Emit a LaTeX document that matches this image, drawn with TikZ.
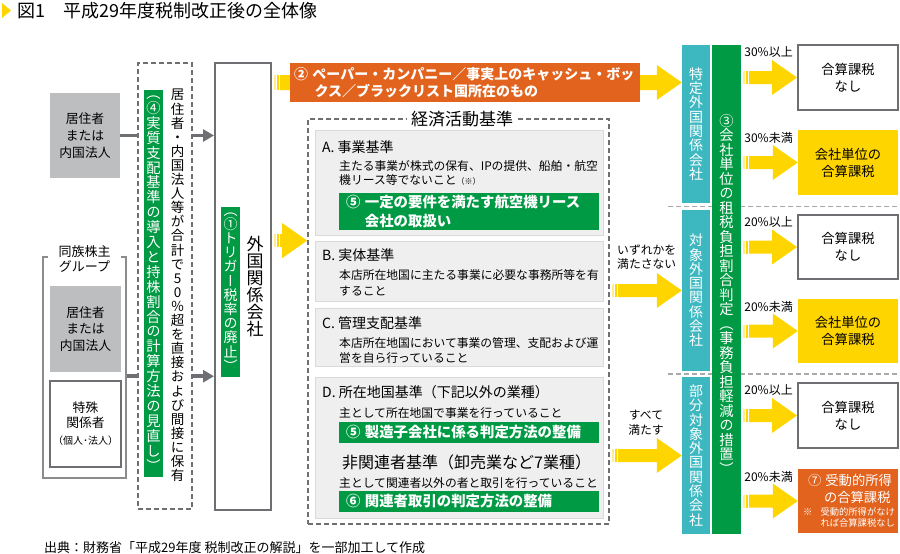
\documentclass[tikz,border=0pt]{standalone}
\usepackage{fontspec}
\setmainfont{Noto Sans CJK JP}
\newfontfamily\vjp[RawFeature=+vert]{Noto Sans CJK JP}
\usetikzlibrary{calc,arrows.meta,backgrounds}

\definecolor{jyellow}{HTML}{FFD500}
\definecolor{jorange}{HTML}{E2631E}
\definecolor{jgreen}{HTML}{009A44}
\definecolor{jteal}{HTML}{3DB8C1}
\definecolor{boxgray}{HTML}{BDBEC0}
\definecolor{linegray}{HTML}{6D6F72}
\definecolor{panelgray}{HTML}{EFEFEF}
\definecolor{panelline}{HTML}{DADADA}

\newcommand\fs[2]{\fontsize{#1}{#2}\selectfont}
\makeatletter
\newcommand\vtext[2]{\vbox{\baselineskip=#1\lineskiplimit=-\maxdimen\lineskip=0pt
  \@tfor\vt@c:=#2\do{\hbox to 1em{\hss\vt@c\hss}}}}
\makeatother
\newcommand\yarrow[3][6.5]{%
  \fill[jyellow!45] ($(#2)+(2,#1)$) rectangle ($(#2)+(4,-#1)$);
  \fill[jyellow] ($(#2)+(5,#1)$) rectangle ($(#2)+(7,-#1)$);
  \fill[jyellow] ($(#2)+(8,#1)$) -- ($(#3)+(-25,#1)$) -- ($(#3)+(-25,17.5)$) -- (#3)
    -- ($(#3)+(-25,-17.5)$) -- ($(#3)+(-25,-#1)$) -- ($(#2)+(8,-#1)$) -- cycle;}

\begin{document}
\begin{tikzpicture}[x=1pt, y=-1pt, font=\fs{12}{15},
  graybox/.style={fill=boxgray, align=center, inner sep=0pt, font=\fs{12.8}{16.7}},
  whitebox/.style={draw=linegray, line width=2pt, fill=white, align=center, inner sep=0pt},
  dashbox/.style={draw=linegray, line width=1.6pt, dash pattern=on 5pt off 3pt, inner sep=0pt},
  panel/.style={fill=panelgray, draw=panelline, line width=0.8pt, inner sep=0pt},
  greenbox/.style={fill=jgreen, inner sep=0pt},
  tealbar/.style={fill=jteal, inner sep=0pt},
  wtext/.style={text=white, inner sep=0pt},
  lbl/.style={anchor=west, inner sep=0pt, align=left},
  conn/.style={draw=linegray, line width=3.5pt},
  sepline/.style={draw=linegray!60, line width=1.5pt, dash pattern=on 5pt off 3pt}]

  \useasboundingbox (0,0) rectangle (900,554);

  \fill[jyellow] (2,3) -- (11,10.5) -- (2,18) -- cycle;
  \node[lbl, font=\fs{18}{18}] (title) at (17,11) {図1\hspace{1em}平成29年度税制改正後の全体像};

  \node[graybox, minimum width=70, minimum height=85] (res1) at (85,135.5) {居住者\\または\\内国法人};
  \node[draw=linegray!80, line width=1.5pt, inner sep=0pt, minimum width=83, minimum height=221] (dozoku) at (84.5,367.5) {};
  \node[fill=white, inner sep=0pt, minimum width=73, minimum height=35, align=center, font=\fs{13}{15.5}] (dozokulbl) at (84.5,259) {同族株主\\グループ};
  \node[graybox, minimum width=71, minimum height=86] (res2) at (85.5,329) {居住者\\または\\内国法人};
  \node[whitebox, line width=1.5pt, minimum width=71, minimum height=86, font=\fs{12.8}{15}] (tokushu) at (85.5,424) {特殊\\関係者\\[2pt]{\fs{10}{12}（個人･法人）}};

  \node[dashbox, minimum width=54, minimum height=446] (shihai) at (165,286) {};
  \node[greenbox, minimum width=19, minimum height=387] (shihaibar) at (153.5,283.5) {};
  \node[wtext, font=\vjp\fs{14.3}{14.3}] (shihaibartxt) at (shihaibar) {\vtext{14.9pt}{（④実質支配基準の導入と持株割合の計算方法の見直し）}};
  \node[font=\vjp\fs{13.5}{13.5}] (shihaitxt) at (177.5,285.5) {\vtext{14.1pt}{居住者・内国法人等が合計で50％超を直接および間接に保有}};

  \node[whitebox, minimum width=56, minimum height=447] (gaikoku) at (243,286.5) {};
  \node[greenbox, minimum width=19, minimum height=170] (trigger) at (230.5,292) {};
  \node[wtext, font=\vjp\fs{14}{14}] (triggertxt) at (trigger) {\vtext{14.2pt}{（①トリガー税率の廃止）}};
  \node[font=\vjp\fs{17}{17}] (gaikokutxt) at (255,287) {\vtext{17pt}{外国関係会社}};

  \coordinate (lowrow) at ($(res2.south)!.5!(tokushu.north)$);
  \draw[conn] (res1.east) -- (shihai.west |- res1.east);
  \draw[conn] (dozoku.east |- lowrow) -- (shihai.west |- lowrow);
  \draw[conn, -{Triangle[length=11pt,width=12pt]}] (shihai.east |- res1.east) -- (gaikoku.west |- res1.east);
  \draw[conn, -{Triangle[length=11pt,width=12pt]}] (shihai.east |- lowrow) -- (gaikoku.west |- lowrow);

  \node[fill=jorange, inner sep=0pt, minimum width=350, minimum height=39] (paper) at (465,82.5) {};
  \node[lbl, wtext, font=\bfseries\fs{14}{17}] (papertxt) at (294,82.5) {②\hspace{0.3em}ペーパー・カンパニー／事実上のキャッシュ・ボッ\\\hspace*{1.45em}クス／ブラックリスト国所在のもの};

  \node[dashbox, minimum width=301, minimum height=405] (keizai) at (458.5,321.5) {};
  \node[panel, minimum width=288, minimum height=105] (critA) at (459,182.5) {};
  \node[panel, minimum width=288, minimum height=60] (critB) at (459,271) {};
  \node[panel, minimum width=288, minimum height=58] (critC) at (459,337) {};
  \node[panel, minimum width=288, minimum height=141] (critD) at (459,447.5) {};
  \node[fill=white, inner sep=0pt, minimum width=110, minimum height=22, font=\fs{17}{17}] (keizailbl) at (462,119) {経済活動基準};

  \node[lbl, font=\fs{14}{14}] (critAhead) at (322,147) {A. 事業基準};
  \node[lbl, font=\fs{11.8}{14.5}] (critAbody) at (339,173) {主たる事業が株式の保有、IPの提供、船舶・航空\\機リース等でないこと{\fs{8}{8}（※）}};
  \node[greenbox, minimum width=260, minimum height=37] (green5a) at (469,211.5) {};
  \node[lbl, wtext, font=\bfseries\fs{14.4}{18.5}] (green5atxt) at (346,211.5) {⑤\hspace{0.3em}一定の要件を満たす航空機リース\\\hspace*{1.3em}会社の取扱い};

  \node[lbl, font=\fs{14}{14}] (critBhead) at (322,255) {B. 実体基準};
  \node[lbl, font=\fs{11.8}{16}] (critBbody) at (339,283) {本店所在地国に主たる事業に必要な事務所等を有\\すること};

  \node[lbl, font=\fs{14}{14}] (critChead) at (322,323) {C. 管理支配基準};
  \node[lbl, font=\fs{11.8}{15}] (critCbody) at (339,350.5) {本店所在地国において事業の管理、支配および運\\営を自ら行っていること};

  \node[lbl, font=\fs{14}{14}] (critDhead) at (322,392) {D. 所在地国基準（下記以外の業種）};
  \node[lbl, font=\fs{11.8}{14}] (critDbody) at (339,413) {主として所在地国で事業を行っていること};
  \node[greenbox, minimum width=260, minimum height=21] (green5b) at (469,432.5) {};
  \node[lbl, wtext, font=\bfseries\fs{14.4}{14.4}] (green5btxt) at (346,432.5) {⑤\hspace{0.3em}製造子会社に係る判定方法の整備};
  \node[lbl, font=\fs{16}{16}] (hikanren) at (342,462) {非関連者基準（卸売業など7業種）};
  \node[lbl, font=\fs{11.8}{14}] (hikanrenbody) at (339,483) {主として関連者以外の者と取引を行っていること};
  \node[greenbox, minimum width=260, minimum height=21] (green6) at (469,501.5) {};
  \node[lbl, wtext, font=\bfseries\fs{14.4}{14.4}] (green6txt) at (346,501.5) {⑥\hspace{0.3em}関連者取引の判定方法の整備};

  \draw[sepline] (668,206.5) -- (900,206.5);
  \draw[sepline] (668,374) -- (900,374);

  \node[tealbar, minimum width=28, minimum height=158] (tokutei) at (696,124) {};
  \node[wtext, font=\vjp\fs{14}{14}] (tokuteitxt) at (tokutei) {\vtext{14.3pt}{特定外国関係会社}};
  \node[tealbar, minimum width=28, minimum height=161] (taisho) at (696,290.5) {};
  \node[wtext, font=\vjp\fs{14}{14}] (taishotxt) at (taisho) {\vtext{14.3pt}{対象外国関係会社}};
  \node[tealbar, minimum width=28, minimum height=157] (bubun) at (696,455.5) {};
  \node[wtext, font=\vjp\fs{14}{14}] (bubuntxt) at (bubun) {\vtext{14.3pt}{部分対象外国関係会社}};

  \node[greenbox, minimum width=29, minimum height=489] (hantei) at (726.5,289.5) {};
  \node[wtext, font=\vjp\fs{14.3}{14.3}] (hanteitxt) at (726.5,294) {\vtext{14.5pt}{③会社単位の租税負担割合判定（事務負担軽減の措置）}};

  \node[lbl, font=\fs{11.8}{13.7}] (fail) at (617,257) {いずれかを\\満たさない};
  \node[align=center, font=\fs{11.8}{15}] (pass) at (646,422.5) {すべて\\満たす};

  \node[whitebox, minimum width=100, minimum height=65, font=\fs{13.3}{17}] (out1) at (848,77.5) {合算課税\\なし};
  \node[fill=jyellow, align=center, inner sep=0pt, minimum width=100, minimum height=65, font=\fs{13.3}{17}] (out2) at (848,162.5) {会社単位の\\合算課税};
  \node[whitebox, minimum width=100, minimum height=64, font=\fs{13.3}{17}] (out3) at (848,247) {合算課税\\なし};
  \node[fill=jyellow, align=center, inner sep=0pt, minimum width=100, minimum height=64, font=\fs{13.3}{17}] (out4) at (848,331) {会社単位の\\合算課税};
  \node[whitebox, minimum width=100, minimum height=65, font=\fs{13.3}{17}] (out5) at (848,415.5) {合算課税\\なし};
  \node[fill=jorange, inner sep=0pt, minimum width=100, minimum height=64] (out6) at (848,501) {};
  \node[wtext, align=center, font=\fs{13.3}{17}] (out6txt) at (850,488.5) {⑦\hspace{0.3em}受動的所得\\\hspace*{1.1em}の合算課税};
  \node[lbl, wtext, font=\fs{9.3}{11}] (out6note) at (803,518.5) {\begin{tabular}{@{}l@{\hspace{8pt}}l@{}}※&受動的所得がなけ\\&れば合算課税なし\end{tabular}};

  \node[lbl, font=\fs{12}{12}] (rate1) at ($(hantei.east |- out1.north)+(3,8)$) {30\%以上};
  \node[lbl, font=\fs{12}{12}] (rate2) at ($(hantei.east |- out2.north)+(3,8)$) {30\%未満};
  \node[lbl, font=\fs{12}{12}] (rate3) at ($(hantei.east |- out3.north)+(3,8)$) {20\%以上};
  \node[lbl, font=\fs{12}{12}] (rate4) at ($(hantei.east |- out4.north)+(3,8)$) {20\%未満};
  \node[lbl, font=\fs{12}{12}] (rate5) at ($(hantei.east |- out5.north)+(3,8)$) {20\%以上};
  \node[lbl, font=\fs{12}{12}] (rate6) at ($(hantei.east |- out6.north)+(3,8)$) {20\%未満};

  \node[lbl, font=\fs{13}{13}] (source) at (44,548) {出典：財務省「平成29年度 税制改正の解説」を一部加工して作成};

  \begin{scope}[on background layer]
    \yarrow[7.5]{gaikoku.east |- paper.west}{tokutei.west |- paper.west}
    \yarrow{gaikoku.east |- critB.north}{keizai.west |- critB.north}
    \yarrow{keizai.east |- taisho.west}{taisho.west}
    \yarrow{keizai.east |- bubun.west}{bubun.west}
    \foreach \n in {1,...,6}{\yarrow{hantei.east |- out\n.west}{out\n.west}}
  \end{scope}
\end{tikzpicture}
\end{document}
